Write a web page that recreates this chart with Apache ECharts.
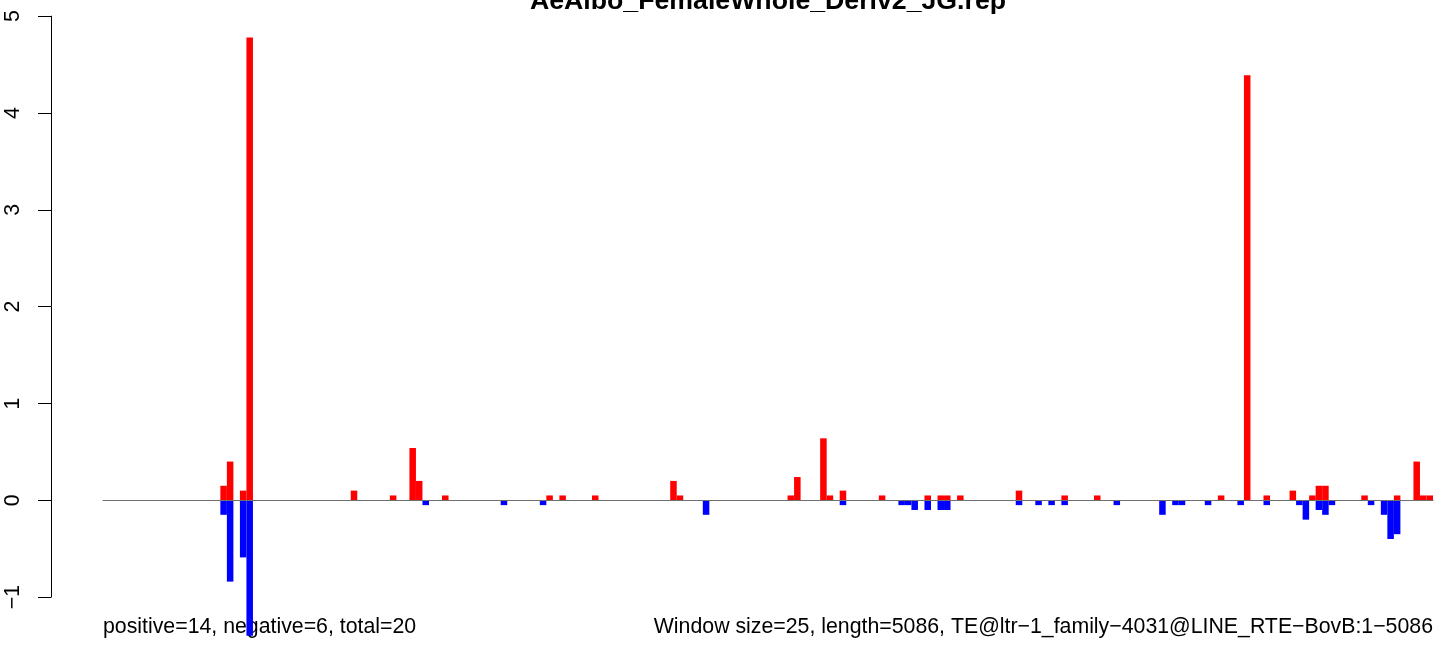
<!DOCTYPE html>
<html><head><meta charset="utf-8">
<script src="https://cdn.jsdelivr.net/npm/echarts@6/dist/echarts.min.js"></script>
<style>html,body{margin:0;padding:0;background:#fff}#c{width:1444px;height:646px}</style>
</head><body><div id="c"></div>
<script>
const titleText = 'AeAlbo_FemaleWhole_Deriv2_JG.rep';
const leftNote = 'positive=14, negative=6, total=20';
const rightNote = 'Window size=25, length=5086, TE@ltr\u22121_family\u22124031@LINE_RTE\u2212BovB:1\u22125086';
const windowCount = 204;
// 0-based window index and value of positive (red) bars
const posWindows = [18, 19, 21, 22, 38, 44, 47, 48, 52, 68, 70, 75, 87, 88, 105, 106, 110, 111, 113, 119, 126, 128, 129, 131, 140, 147, 152, 171, 175, 178, 182, 185, 186, 187, 193, 198, 201, 202, 203];
const posValues  = [0.15, 0.4, 0.1, 4.78, 0.1, 0.05, 0.54, 0.2, 0.05, 0.05, 0.05, 0.05, 0.2, 0.05, 0.05, 0.24, 0.64, 0.05, 0.1, 0.05, 0.05, 0.05, 0.05, 0.05, 0.1, 0.05, 0.05, 0.05, 4.39, 0.05, 0.1, 0.05, 0.15, 0.15, 0.05, 0.05, 0.4, 0.05, 0.05];
// 0-based window index and value of negative (blue) bars
const negWindows = [18, 19, 21, 22, 49, 61, 67, 92, 113, 122, 123, 124, 126, 128, 129, 140, 143, 145, 147, 155, 162, 164, 165, 169, 174, 178, 183, 184, 186, 187, 188, 194, 196, 197, 198];
const negValues  = [-0.15, -0.84, -0.59, -1.4, -0.05, -0.05, -0.05, -0.15, -0.05, -0.05, -0.05, -0.1, -0.1, -0.1, -0.1, -0.05, -0.05, -0.05, -0.05, -0.05, -0.15, -0.05, -0.05, -0.05, -0.05, -0.05, -0.05, -0.2, -0.1, -0.15, -0.05, -0.05, -0.15, -0.4, -0.35];
const yTickMin = -1, yTickMax = 5, yTickStep = 1;

const categories = [];
for (let i = 0; i < windowCount; i++) categories.push(String(i + 1));
const posData = categories.map(() => null);
const negData = categories.map(() => null);
posWindows.forEach((w, k) => { posData[w] = posValues[k]; });
negWindows.forEach((w, k) => { negData[w] = negValues[k]; });

const FONT = "'Liberation Sans', Arial, Helvetica, sans-serif";
const chart = echarts.init(document.getElementById('c'), null, {renderer: 'canvas'});
chart.setOption({
  animation: false,
  backgroundColor: '#ffffff',
  grid: [
    {left: 103, right: 11, top: 16.15, bottom: 10.15, containLabel: false},
    {left: 51, width: 1, top: 16.15, height: 581, containLabel: false}
  ],
  xAxis: [
    {type: 'category', gridIndex: 0, data: categories, boundaryGap: true, z: 10,
     axisLine: {show: true, onZero: true, lineStyle: {color: '#707070', width: 1.2}},
     axisTick: {show: false}, axisLabel: {show: false}, splitLine: {show: false}},
    {type: 'value', gridIndex: 1, show: false}
  ],
  yAxis: [
    {type: 'value', gridIndex: 0, min: -1.4, max: 5, show: false, splitLine: {show: false}},
    {type: 'value', gridIndex: 1, min: yTickMin, max: yTickMax, interval: yTickStep, position: 'left',
     axisLine: {show: true, lineStyle: {color: '#000', width: 1}},
     axisTick: {show: true, length: 13, inside: false, lineStyle: {color: '#000', width: 1}},
     axisLabel: {show: true, rotate: 90, margin: 27, color: '#000', fontSize: 21.3, fontFamily: FONT,
       formatter: v => String(v).replace('-', '\u2212')},
     splitLine: {show: false}}
  ],
  series: [
    {name: 'positive', type: 'bar', xAxisIndex: 0, yAxisIndex: 0, data: posData,
     barWidth: '100%', barGap: '-100%', itemStyle: {color: '#ff0000'}},
    {name: 'negative', type: 'bar', xAxisIndex: 0, yAxisIndex: 0, data: negData,
     barWidth: '100%', barGap: '-100%', itemStyle: {color: '#0000ff'}}
  ],
  graphic: [
    {type: 'text', x: 768, y: 1.2, silent: true,
     style: {text: titleText, font: 'bold 26.7px ' + FONT, fill: '#000', align: 'center', verticalAlign: 'middle', textAlign: 'center', textVerticalAlign: 'middle'}},
    {type: 'text', x: 103, y: 627, silent: true,
     style: {text: leftNote, font: '21.3px ' + FONT, fill: '#000', align: 'left', verticalAlign: 'middle', textAlign: 'left', textVerticalAlign: 'middle'}},
    {type: 'text', x: 1433, y: 627, silent: true,
     style: {text: rightNote, font: '21.3px ' + FONT, fill: '#000', align: 'right', verticalAlign: 'middle', textAlign: 'right', textVerticalAlign: 'middle'}}
  ]
});
</script>
</body></html>
